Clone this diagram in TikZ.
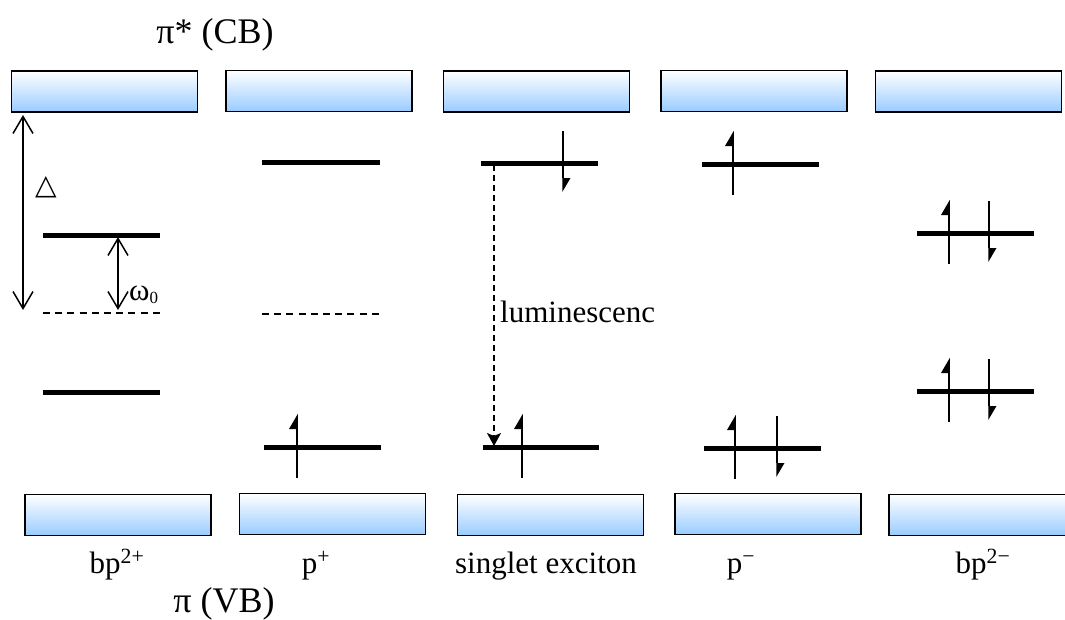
\documentclass[tikz,border=0pt]{standalone}
\usepackage{fontspec}
\setmainfont{Liberation Serif}
\newfontfamily\symfont{DejaVu Sans}
\usetikzlibrary{arrows.meta}
\definecolor{bandblue}{RGB}{153,204,255}
\tikzset{
  bandfill/.style={top color=white, bottom color=bandblue,
    minimum width=186pt, minimum height=41pt, inner sep=0pt, outer sep=0pt},
  band/.style={bandfill, draw=black, line width=1.6pt},
  level/.style={line width=5pt},
  halflevel/.style={line width=1.3pt, dash pattern=on 7pt off 5.2pt},
  gap/.style={line width=1.5pt, {Straight Barb[length=17pt,width=20pt]}-{Straight Barb[length=17pt,width=20pt]}},
  emission/.style={line width=1.4pt, dash pattern=on 6pt off 4pt, -{Stealth[length=13pt,width=14pt,inset=3pt]}},
  lbl/.style={inner sep=0pt, font=\fontsize{31}{36}\selectfont},
  biglbl/.style={inner sep=0pt, font=\fontsize{36}{42}\selectfont},
  upspin/.pic={
    \draw[line width=1.5pt] (0,31) -- (0,-18);
    \fill (0.75,-33) -- (-8,-18) -- (0.75,-18) -- cycle;
  },
  downspin/.pic={
    \draw[line width=1.5pt] (0,-32) -- (0,15);
    \fill (-0.75,29) -- (7.5,15) -- (-0.75,15) -- cycle;
  }
}
\begin{document}
\begin{tikzpicture}[x=1pt,y=-1pt]
\useasboundingbox (0,0) rectangle (1065,619);
\clip (0,0) rectangle (1065,619);

% conduction band blocks
\node[band] (cb1) at (104.5,91.5) {};
\node[band] (cb2) at (319,91) {};
\node[band] (cb3) at (536.5,91.5) {};
\node[band] (cb4) at (754,91) {};
\node[band] (cb5) at (968.5,91.5) {};

% valence band blocks (the last one runs off the right edge)
\node[band] (vb1) at (118,515) {};
\node[band] (vb2) at (332.5,514) {};
\node[band] (vb3) at (550.5,515) {};
\node[band] (vb4) at (768,514) {};
\node[bandfill, minimum width=190pt] (vb5) at (984,515) {};
\draw[line width=1.6pt] (vb5.north east) -- (vb5.north west) -- (vb5.south west) -- (vb5.south east);

% band labels
\node[biglbl, anchor=base] (cblabel) at (215,43) {π* (CB)};
\node[biglbl, anchor=base] (vblabel) at (224,612) {π (VB)};

% species labels
\node[lbl, anchor=base] (n1) at (117,573) {bp\textsuperscript{2+}};
\node[lbl, anchor=base] (n2) at (316,573) {p\textsuperscript{+}};
\node[lbl, anchor=base] (n3) at (546,573) {singlet exciton};
\node[lbl, anchor=base] (n4) at (741,573) {p\textsuperscript{−}};
\node[lbl, anchor=base] (n5) at (983,573) {bp\textsuperscript{2−}};

% bipolaron (2+) levels
\draw[level] (43,235) -- (160,235);
\draw[halflevel] (43,313) -- (160,313);
\draw[level] (43,392) -- (160,392);
\coordinate (gtop) at (23,115);
\coordinate (gbot) at (23,310);
\coordinate (wtop) at (118,237);
\coordinate (wbot) at (118,310);
\draw[gap] (gtop) -- (gbot);
\draw[gap] (wtop) -- (wbot);
\node[inner sep=0pt, font=\symfont\fontsize{28}{30}\selectfont] (delta) at (46,187) {△};
\node[lbl, anchor=base west] (omega) at (129,300) {ω\raisebox{-3pt}{\fontsize{17}{20}\selectfont 0}};

% polaron (+) levels
\draw[level] (262,162) -- (380,162);
\draw[halflevel] (262,314) -- (380,314);
\draw[level] (264,447) -- (381,447);
\pic at (297,447) {upspin};

% singlet exciton levels
\draw[level] (481,163) -- (598,163);
\pic at (563,163) {downspin};
\draw[level] (483,447) -- (599,447);
\pic at (522,447) {upspin};
\coordinate (etop) at (494,165);
\coordinate (ebot) at (494,446);
\draw[emission] (etop) -- (ebot);
\node[lbl, anchor=base west] (lum) at (500,322) {luminescenc};

% polaron (-) levels
\draw[level] (702,164) -- (819,164);
\pic at (733,164) {upspin};
\draw[level] (704,448) -- (821,448);
\pic at (735,448) {upspin};
\pic at (777,448) {downspin};

% bipolaron (2-) levels
\draw[level] (917,233) -- (1034,233);
\pic at (949,233) {upspin};
\pic at (989,233) {downspin};
\draw[level] (917,391) -- (1034,391);
\pic at (949,391) {upspin};
\pic at (989,391) {downspin};
\end{tikzpicture}
\end{document}
